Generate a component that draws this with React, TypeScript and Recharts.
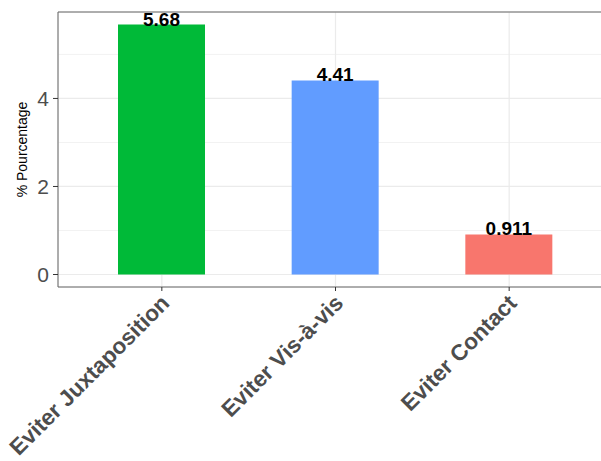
import React from 'react';
import { BarChart, Bar, XAxis, YAxis, CartesianGrid, LabelList, ReferenceLine, Cell } from 'recharts';

const categories = ['Eviter Juxtaposition', 'Eviter Vis-à-vis', 'Eviter Contact'];
const values = [5.68, 4.41, 0.911];
const labels = ['5.68', '4.41', '0.911'];
const colors = ['#00BA38', '#619CFF', '#F8766D'];
const yTicks = [0, 2, 4];
const yMinor = [1, 3, 5];

const Y_MIN = -0.284;
const Y_MAX = 5.964;

const data = categories.map((name, i) => ({ name, value: values[i], label: labels[i] }));

const XTick = (props: any) => {
  const { x, y, payload } = props;
  return (
    <g transform={`translate(${x + 9},${y + 11.5})`}>
      <text
        transform="rotate(-45)"
        textAnchor="end"
        fill="#4d4d4d"
        fontSize={22.5}
        fontWeight="bold"
      >
        {payload.value}
      </text>
    </g>
  );
};

const YLabel = (props: any) => {
  const { viewBox } = props;
  const cy = viewBox.y + viewBox.height / 2;
  return (
    <text
      x={22}
      y={cy}
      transform={`rotate(-90, 22, ${cy})`}
      textAnchor="middle"
      dominantBaseline="central"
      fontSize={14}
      fill="#000"
    >
      % Pourcentage
    </text>
  );
};

export default function App() {
  return (
    <div style={{ position: 'absolute', left: 0, top: 0, width: 601, height: 461, overflow: 'hidden', background: '#fff' }}>
      <BarChart
        width={640}
        height={461}
        data={data}
        margin={{ top: 12, right: 27, left: 0, bottom: 0 }}
        style={{ fontFamily: '"Liberation Sans", Arial, sans-serif' }}
      >
        <CartesianGrid stroke="#f2f2f2" horizontalValues={yMinor} vertical={false} />
        <CartesianGrid stroke="#ebebeb" strokeWidth={1.2} />
        <XAxis
          dataKey="name"
          interval={0}
          height={174}
          padding={{ left: 17, right: 17 }}
          tick={<XTick />}
          tickSize={4}
          tickMargin={2}
          axisLine={{ stroke: '#666' }}
          tickLine={{ stroke: '#333' }}
        />
        <YAxis
          width={58}
          domain={[Y_MIN, Y_MAX]}
          ticks={yTicks}
          allowDataOverflow
          tickSize={5}
          tickMargin={4}
          tick={{ fill: '#4d4d4d', fontSize: 21 }}
          axisLine={{ stroke: '#666' }}
          tickLine={{ stroke: '#333' }}
          label={<YLabel />}
        />
        <ReferenceLine y={Y_MAX} stroke="#666" />
        <Bar dataKey="value" barSize={87} isAnimationActive={false}>
          {data.map((d, i) => (
            <Cell key={d.name} fill={colors[i]} />
          ))}
          <LabelList
            dataKey="label"
            position="top"
            offset={-1}
            fill="#000"
            fontSize={19}
            fontWeight="bold"
          />
        </Bar>
      </BarChart>
    </div>
  );
}
